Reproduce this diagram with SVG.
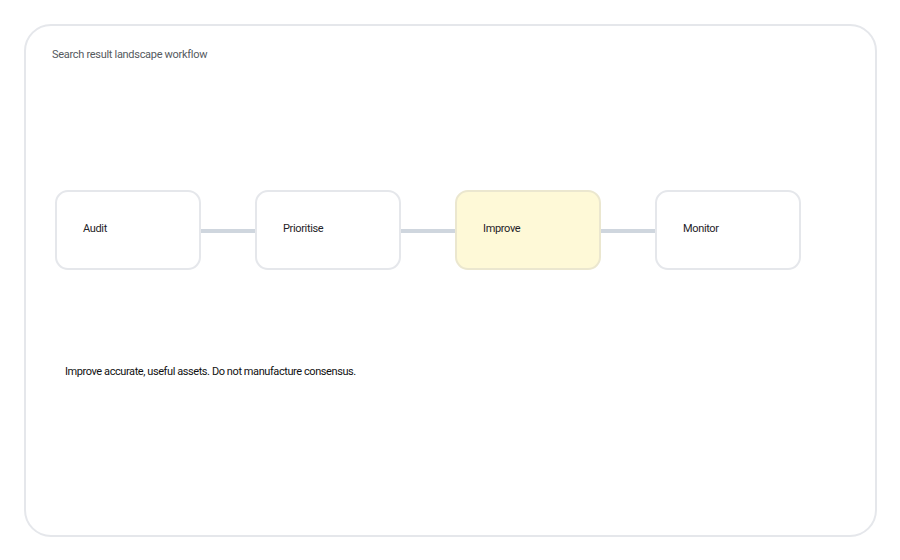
<svg xmlns="http://www.w3.org/2000/svg" width="900" height="560" viewBox="0 0 900 560">
<style>
.node{fill:#ffffff;stroke:#e5e7eb;stroke-width:2}
.hl{fill:#fef9d7;stroke:#ebe7cf}
.lbl{font-family:Roboto,"Liberation Sans",sans-serif;font-size:11px;fill:#1f2328;letter-spacing:-0.35px}
.conn{stroke:#cfd6de;stroke-width:4;fill:none}
</style>
<rect x="0" y="0" width="900" height="560" fill="#ffffff"/>
<rect x="25" y="25" width="851" height="511" rx="26" fill="#ffffff" stroke="#e5e7eb" stroke-width="2"/>
<text x="52" y="58" font-family="Roboto,'Liberation Sans',sans-serif" font-size="11" letter-spacing="-0.3" fill="#555a60">Search result landscape workflow</text>
<g id="connectors">
<line class="conn" x1="200" y1="231" x2="256" y2="231"/>
<line class="conn" x1="400" y1="231" x2="456" y2="231"/>
<line class="conn" x1="600" y1="231" x2="656" y2="231"/>
</g>
<g id="node-audit"><rect class="node" x="56" y="191" width="144" height="78" rx="12"/><text class="lbl" x="83" y="232">Audit</text></g>
<g id="node-prioritise"><rect class="node" x="256" y="191" width="144" height="78" rx="12"/><text class="lbl" x="283" y="232">Prioritise</text></g>
<g id="node-improve"><rect class="node hl" x="456" y="191" width="144" height="78" rx="12"/><text class="lbl" x="483" y="232">Improve</text></g>
<g id="node-monitor"><rect class="node" x="656" y="191" width="144" height="78" rx="12"/><text class="lbl" x="683" y="232">Monitor</text></g>
<text x="65" y="375" font-family="Roboto,'Liberation Sans',sans-serif" font-size="11" letter-spacing="-0.42" fill="#111111">Improve accurate, useful assets. Do not manufacture consensus.</text>
</svg>
